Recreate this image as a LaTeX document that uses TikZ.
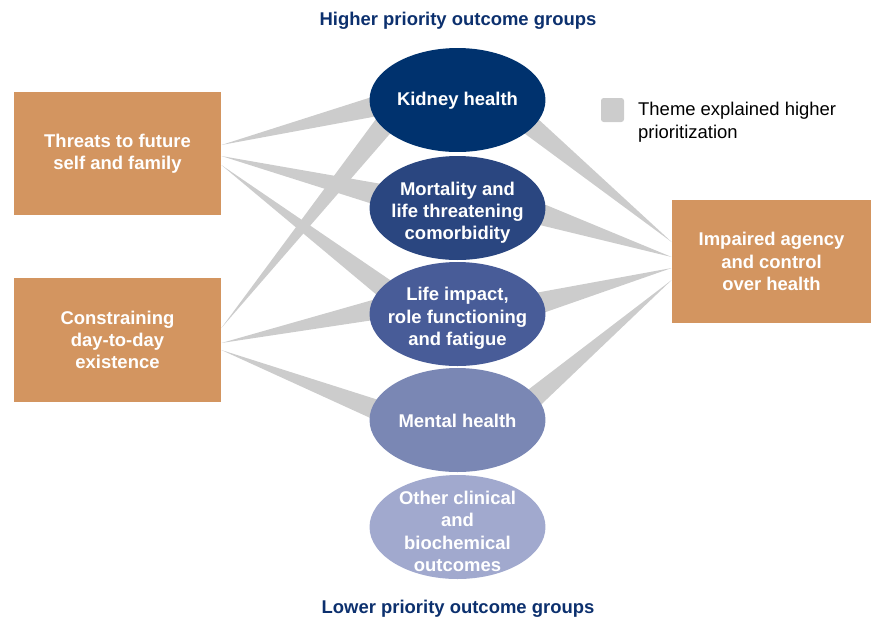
\documentclass[tikz,border=0pt]{standalone}
\usepackage{fontspec}
\setmainfont{Liberation Sans}
\usetikzlibrary{shapes.geometric,calc,backgrounds}
\definecolor{themeorange}{RGB}{211,149,96}
\definecolor{themegray}{RGB}{204,204,204}
\definecolor{titleblue}{RGB}{12,48,110}
\definecolor{kidneyblue}{RGB}{0,50,110}
\definecolor{mortalityblue}{RGB}{42,70,128}
\definecolor{lifeblue}{RGB}{72,92,152}
\definecolor{mentalblue}{RGB}{122,135,180}
\definecolor{otherblue}{RGB}{161,169,206}
\newcommand{\themewedge}[3]{%
  \path ($(#2)!-8pt!(#1)$) coordinate (wedge end);
  \fill[themegray] (#1) -- ($(wedge end)!#3!90:(#1)$) -- ($(wedge end)!#3!-90:(#1)$) -- cycle;}
\begin{document}
\begin{tikzpicture}[x=0.02cm, y=-0.02cm,
    every node/.style={font=\fontsize{10.5}{12.6}\selectfont\bfseries, align=center},
    themebox/.style={fill=themeorange, text=white, minimum width=4.14cm, minimum height=2.48cm, inner sep=0pt},
    outcome/.style 2 args={ellipse, minimum width=3.52cm, minimum height=2.08cm, inner sep=0pt, label={[text=white, yshift=#2]center:#1}},
    groupname/.style={text=titleblue}]
  \useasboundingbox (0,0) rectangle (871,620);
  \node[groupname] (higher) at (458,21) {Higher priority outcome groups};
  \node[groupname] (lower)  at (458,609) {Lower priority outcome groups};
  \node[themebox] (threats)  at (117.5,153.5) {Threats to future\\self and family};
  \node[themebox] (constrain) at (117.5,340) {Constraining\\day-to-day\\existence};
  \node[themebox, minimum width=3.98cm, minimum height=2.46cm] (agency) at (771.5,261.5) {Impaired agency\\and control\\over health};
  \node[outcome={Kidney health}{-0.5pt}, fill=kidneyblue] (kidney) at (457.5,100) {};
  \node[outcome={Mortality and\\life threatening\\comorbidity}{-2.5pt}, fill=mortalityblue] (mortality) at (457.5,208) {};
  \node[outcome={Life impact,\\role functioning\\and fatigue}{-2.5pt}, fill=lifeblue] (life) at (457.5,314) {};
  \node[outcome={Mental health}{-0.5pt}, fill=mentalblue] (mental) at (457.5,420) {};
  \node[outcome={Other clinical\\and\\biochemical\\outcomes}{-2.5pt}, fill=otherblue] (other) at (457.5,527) {};
  \node[fill=themegray, rounded corners=1.5pt, minimum width=0.46cm, minimum height=0.48cm, inner sep=0pt] (legend key) at (612.5,110) {};
  \node[anchor=base west, align=left, font=\fontsize{10.5}{12.6}\selectfont] (legend text) at (632,138) {Theme explained higher\\prioritization};
  \coordinate (threats tip1)   at ($(threats.east)+(0,-8.5)$);
  \coordinate (threats tip2)   at ($(threats.east)+(0,2.5)$);
  \coordinate (threats tip3)   at ($(threats.east)+(0,11.5)$);
  \coordinate (constrain tip1) at ($(constrain.east)+(0,-12)$);
  \coordinate (constrain tip2) at ($(constrain.east)+(0,3)$);
  \coordinate (constrain tip3) at ($(constrain.east)+(0,10)$);
  \coordinate (agency tip1)    at ($(agency.west)+(0,-19.5)$);
  \coordinate (agency tip2)    at ($(agency.west)+(0,-4.5)$);
  \coordinate (agency tip3)    at ($(agency.west)+(0,6.5)$);
  \coordinate (agency tip4)    at ($(agency.west)+(0,18.5)$);
  \begin{scope}[on background layer]
    \themewedge{threats tip1}{kidney.185}{6pt}
    \themewedge{threats tip2}{mortality.170}{6.5pt}
    \themewedge{threats tip3}{life.160}{6pt}
    \themewedge{constrain tip1}{kidney.200}{6pt}
    \themewedge{constrain tip2}{life.178}{6pt}
    \themewedge{constrain tip3}{mental.172}{6pt}
    \themewedge{agency tip1}{kidney.340}{6pt}
    \themewedge{agency tip2}{mortality.355}{6.5pt}
    \themewedge{agency tip3}{life.8}{6.5pt}
    \themewedge{agency tip4}{mental.17}{6pt}
  \end{scope}
\end{tikzpicture}
\end{document}
